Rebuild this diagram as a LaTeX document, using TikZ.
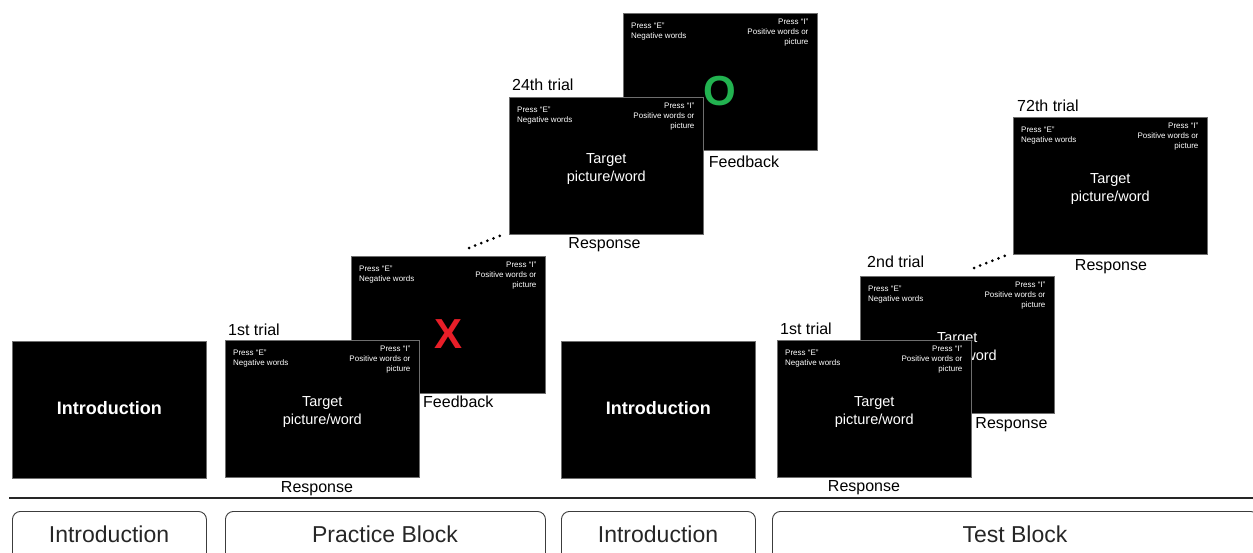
\documentclass[tikz,border=0pt]{standalone}
\usepackage{fontspec}
\setmainfont{Liberation Sans}
\usetikzlibrary{calc}
\definecolor{fbred}{RGB}{232,30,40}
\definecolor{fbgreen}{RGB}{34,178,80}
\definecolor{scrframe}{RGB}{110,110,110}
\definecolor{boxline}{RGB}{60,60,60}
\newcommand{\trialscreen}[3]{%
  \node[screen] (#1) at (#2,#3) {};
  \node[smalltxt, anchor=north west, align=left] (#1e) at ($(#1.north west)+(8,10)$) {Press “E”\\Negative words};
  \node[smalltxt, anchor=north east, align=right] (#1i) at ($(#1.north east)+(-9,6)$) {Press “I”\\Positive words or\\picture};
}
\begin{document}
\begin{tikzpicture}[x=1pt,y=-1pt,
  screen/.style={draw=scrframe, line width=0.6pt, fill=black, minimum width=194pt, minimum height=137pt, anchor=north west, inner sep=0pt},
  smalltxt/.style={font=\fontsize{8}{10}\selectfont, text=white, inner sep=0pt},
  targettxt/.style={font=\fontsize{14.5}{18}\selectfont, text=white, align=center, inner sep=0pt},
  introtxt/.style={font=\fontsize{18}{20}\selectfont\bfseries, text=white, inner sep=0pt},
  lbl/.style={font=\fontsize{16}{18}\selectfont, inner sep=0pt},
  fbmark/.style={font=\fontsize{42}{42}\selectfont\bfseries, inner sep=0pt},
  blockbox/.style={draw=boxline, line width=0.9pt, rounded corners=8pt, minimum height=80pt, anchor=north west, inner sep=0pt},
  blocktxt/.style={font=\fontsize{23}{26}\selectfont, text=black!85, inner sep=0pt},
  dots/.style={line width=3pt, line cap=round, dash pattern=on 0pt off 6.6pt}
]
\useasboundingbox (0,0) rectangle (1253,552);
\clip (0,0) rectangle (1253,552);

% ---------- Introduction screens ----------
\node[screen] (intro1) at (12,341) {};
\node[introtxt] (intro1t) at ($(intro1.center)+(0,-2)$) {Introduction};
\node[screen] (intro2) at (561,341) {};
\node[introtxt] (intro2t) at ($(intro2.center)+(0,-2)$) {Introduction};

% ---------- Practice block: 1st trial ----------
\trialscreen{B}{351}{256}
\node[fbmark, text=fbred] (Bx) at ($(B.center)+(0,9)$) {X};
\trialscreen{A}{225}{340}
\node[targettxt] (At) at ($(A.center)+(0,3)$) {Target\\picture/word};
\node[lbl, anchor=base west] (Alab) at (228,335) {1st trial};
\node[lbl, anchor=base] (Aresp) at (317,492) {Response};
\node[lbl, anchor=base west] (Bfb) at (423,407) {Feedback};

% ---------- Practice block: 24th trial ----------
\trialscreen{D}{623}{13}
\node[fbmark, text=fbgreen] (Do) at ($(D.center)+(0,9)$) {O};
\trialscreen{C}{509}{97}
\node[targettxt] (Ct) at ($(C.center)+(0,3)$) {Target\\picture/word};
\node[lbl, anchor=base west] (Clab) at (512,90) {24th trial};
\node[lbl, anchor=base] (Cresp) at (604.5,248) {Response};
\node[lbl, anchor=base] (Dfb) at (744,167) {Feedback};

\coordinate (d1a) at (469,248);
\coordinate (d1b) at (502,235);
\draw[dots] (d1a) -- (d1b);

% ---------- Test block ----------
\trialscreen{F}{860}{276}
\node[targettxt] (Ft) at ($(F.center)+(0,3)$) {Target\\picture/word};
\trialscreen{E}{777}{340}
\node[targettxt] (Et) at ($(E.center)+(0,3)$) {Target\\picture/word};
\trialscreen{G}{1013}{117}
\node[targettxt] (Gt) at ($(G.center)+(0,3)$) {Target\\picture/word};
\node[lbl, anchor=base west] (Elab) at (780,334) {1st trial};
\node[lbl, anchor=base west] (Flab) at (867,267) {2nd trial};
\node[lbl, anchor=base west] (Glab) at (1017,111) {72th trial};
\node[lbl, anchor=base] (Eresp) at (864,491) {Response};
\node[lbl, anchor=base] (Fresp) at (1011.5,428) {Response};
\node[lbl, anchor=base] (Gresp) at (1111,270) {Response};

\coordinate (d2a) at (974,268);
\coordinate (d2b) at (1007,255);
\draw[dots] (d2a) -- (d2b);

% ---------- Timeline ----------
\coordinate (tl1) at (9,498);
\coordinate (tl2) at (1253,498);
\draw[line width=2.2pt, black!85] (tl1) -- (tl2);

\node[blockbox, minimum width=194pt] (blk1) at (12,511) {};
\node[blockbox, minimum width=320pt] (blk2) at (225,511) {};
\node[blockbox, minimum width=194pt] (blk3) at (561,511) {};
\node[blockbox, minimum width=486pt] (blk4) at (772,511) {};
\node[blocktxt, anchor=base] (blk1t) at (109,542) {Introduction};
\node[blocktxt, anchor=base] (blk2t) at (385,542) {Practice Block};
\node[blocktxt, anchor=base] (blk3t) at (658,542) {Introduction};
\node[blocktxt, anchor=base] (blk4t) at (1015,542) {Test Block};
\end{tikzpicture}
\end{document}
